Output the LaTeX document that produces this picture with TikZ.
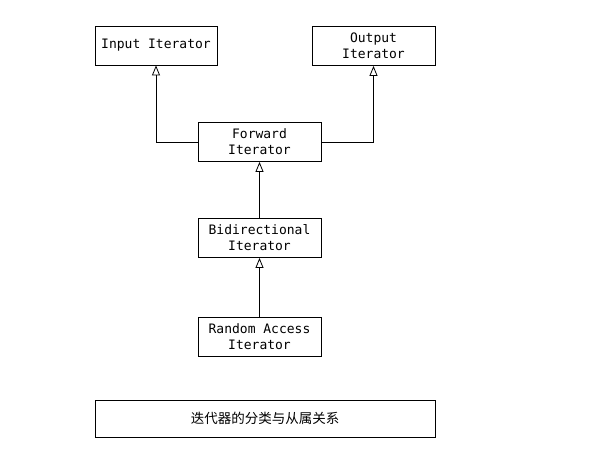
\documentclass[tikz,border=0pt]{standalone}
\usepackage{fontspec}
\setmonofont{DejaVu Sans Mono}
\newfontfamily\cjk{Noto Sans CJK SC}
\usetikzlibrary{arrows.meta}
\begin{document}
\begin{tikzpicture}[x=1pt,y=-1pt,
  box/.style={draw,line width=0.8pt,minimum height=39pt,inner sep=0pt,align=center,
    font=\ttfamily\fontsize{13}{16}\selectfont},
  inh/.style={draw,line width=0.8pt,-{Triangle[open,width=8pt,length=10pt]}}]
\useasboundingbox (0,0) rectangle (597,463);
\node[box,minimum width=122pt] (in) at (156,45.5) {Input Iterator};
\node[box,minimum width=123pt] (out) at (373.5,46) {Output\\Iterator};
\node[box,minimum width=123pt] (fw) at (259.5,142) {Forward\\Iterator};
\node[box,minimum width=123pt] (bi) at (259.5,238) {Bidirectional\\Iterator};
\node[box,minimum width=123pt] (ra) at (259.5,336.5) {Random Access\\Iterator};
\node[draw,line width=0.8pt,minimum width=340pt,minimum height=37pt,inner sep=0pt,
  font=\cjk\fontsize{13.5}{16}\selectfont] (cap) at (265,418.5) {迭代器的分类与从属关系};
\draw[inh] (fw.west) -| (in.south);
\draw[inh] (fw.east) -| (out.south);
\draw[inh] (bi.north) -- (fw.south);
\draw[inh] (ra.north) -- (bi.south);
\end{tikzpicture}
\end{document}
